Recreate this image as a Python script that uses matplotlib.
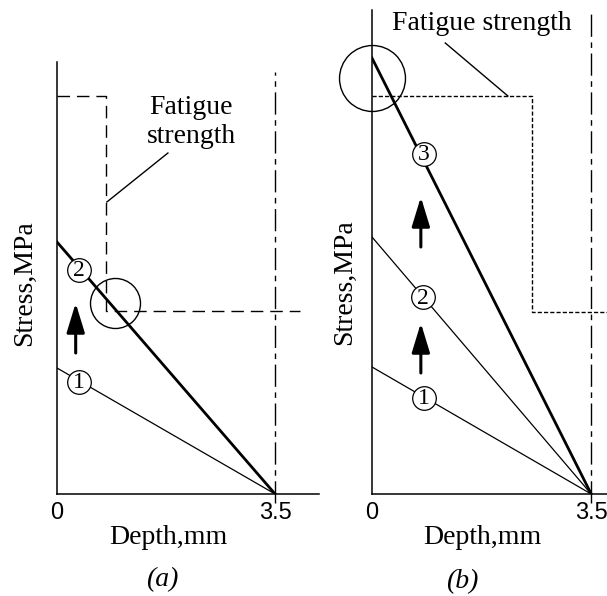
import matplotlib
matplotlib.use("Agg")
import matplotlib.pyplot as plt

# ---- data (depth in mm, stress in arbitrary units) ----
depth_end = 3.5
tick_pos = [0, 3.5]
tick_lab = ["0", "3.5"]

# panel (a)
a_surface = [126, 252]          # surface stress of curves 1, 2
a_fat_x = [0, 0.79, 0.79, 3.9]
a_fat_y = [398, 398, 183, 183]
a_lbl_x = [0.35, 0.35]
a_lbl_y = [112, 224]

# panel (b)
b_surface = [127, 257, 436]     # curves 1, 2, 3
b_fat_x = [0, 2.56, 2.56, 3.9]
b_fat_y = [398, 398, 182, 182]
b_lbl_x = [0.83, 0.82, 0.83]
b_lbl_y = [96, 197, 340]

W, H = 607, 596
fig = plt.figure(figsize=(W / 100, H / 100), dpi=100)
plt.rcParams['font.family'] = 'Liberation Serif'


def px(x0, ytop, w, h):
    return [x0 / W, (H - ytop - h) / H, w / W, h / H]


ax_a = fig.add_axes(px(57, 62, 261.7, 432))
ax_a.set_xlim(0, 4.2)
ax_a.set_ylim(0, 432)
ax_b = fig.add_axes(px(372, 10, 238, 484))
ax_b.set_xlim(0, 3.8)
ax_b.set_ylim(0, 484)

for ax in (ax_a, ax_b):
    ax.spines['top'].set_visible(False)
    ax.spines['right'].set_visible(False)
    ax.spines['left'].set_linewidth(1.1)
    ax.spines['bottom'].set_linewidth(1.1)
    ax.set_yticks([])
    ax.set_xticks(tick_pos)
    ax.set_xticklabels(tick_lab, family='Liberation Sans', fontsize=17)
    ax.tick_params(axis='x', length=0, pad=6)
    ax.patch.set_alpha(0)


def circ_label(ax, x, y, s):
    ax.plot(x, y, 'o', ms=17, mfc='white', mec='black', mew=0.9, zorder=5)
    ax.text(x, y - 1, s, ha='center', va='center', fontsize=17, zorder=6)


def arrow_up(ax, x, y0, y1):
    ax.annotate("", xy=(x, y1), xytext=(x, y0),
                arrowprops=dict(arrowstyle='-|>,head_length=1.8,head_width=0.55',
                                lw=2.2, color='black', mutation_scale=10,
                                shrinkA=0, shrinkB=0))


# ---- panel (a) ----
ax_a.plot([0, depth_end], [a_surface[0], 0], color='black', lw=0.9)
ax_a.plot([0, depth_end], [a_surface[1], 0], color='black', lw=2.0)
ax_a.plot([depth_end, depth_end], [-9, 422], color='black', lw=1.0,
          ls=(0, (16, 4, 4, 4)), clip_on=False)
ax_a.plot(a_fat_x, a_fat_y, color='black', lw=1.0, ls=(0, (9, 5)), clip_on=False)
ax_a.plot(0.93, 191, 'o', ms=36, mfc='none', mec='black', mew=1.0, clip_on=False)
for i in range(2):
    circ_label(ax_a, a_lbl_x[i], a_lbl_y[i], str(i + 1))
arrow_up(ax_a, 0.30, 141, 191)
ax_a.text(2.15, 372, "Fatigue\nstrength", ha='center', va='center', fontsize=20,
          linespacing=1.2)
ax_a.plot([1.78, 0.80], [341, 292], color='black', lw=1.0)

# ---- panel (b) ----
ax_b.plot([0, depth_end], [b_surface[0], 0], color='black', lw=0.9)
ax_b.plot([0, depth_end], [b_surface[1], 0], color='black', lw=0.9)
ax_b.plot([0, depth_end], [b_surface[2], 0], color='black', lw=2.0)
ax_b.plot([depth_end, depth_end], [-9, 481], color='black', lw=1.0,
          ls=(0, (16, 4, 4, 4)), clip_on=False)
ax_b.plot(b_fat_x, b_fat_y, color='black', lw=1.0, ls=(0, (3, 1.5)), clip_on=False)
ax_b.plot(0, 416, 'o', ms=47.5, mfc='none', mec='black', mew=1.0, clip_on=False)
for i in range(3):
    circ_label(ax_b, b_lbl_x[i], b_lbl_y[i], str(i + 1))
arrow_up(ax_b, 0.78, 121, 171)
arrow_up(ax_b, 0.78, 247, 297)
ax_b.text(1.76, 471, "Fatigue strength", ha='center', va='center', fontsize=20)
ax_b.plot([1.17, 2.17], [451, 398], color='black', lw=1.0)

# ---- axis titles ----
for xc, yc in [(25, 283), (345, 282)]:
    fig.text(xc / W, 1 - yc / H, "Stress,MPa", rotation=90, ha='center',
             va='center', fontsize=20)
fig.text(168 / W, 1 - 537 / H, "Depth,mm", ha='center', va='center', fontsize=20)
fig.text(482 / W, 1 - 538 / H, "Depth,mm", ha='center', va='center', fontsize=20)
fig.text(162 / W, 1 - 580 / H, "(a)", ha='center', va='center', fontsize=20,
         style='italic')
fig.text(462 / W, 1 - 582 / H, "(b)", ha='center', va='center', fontsize=20,
         style='italic')

fig.savefig("out.png", dpi=100)
